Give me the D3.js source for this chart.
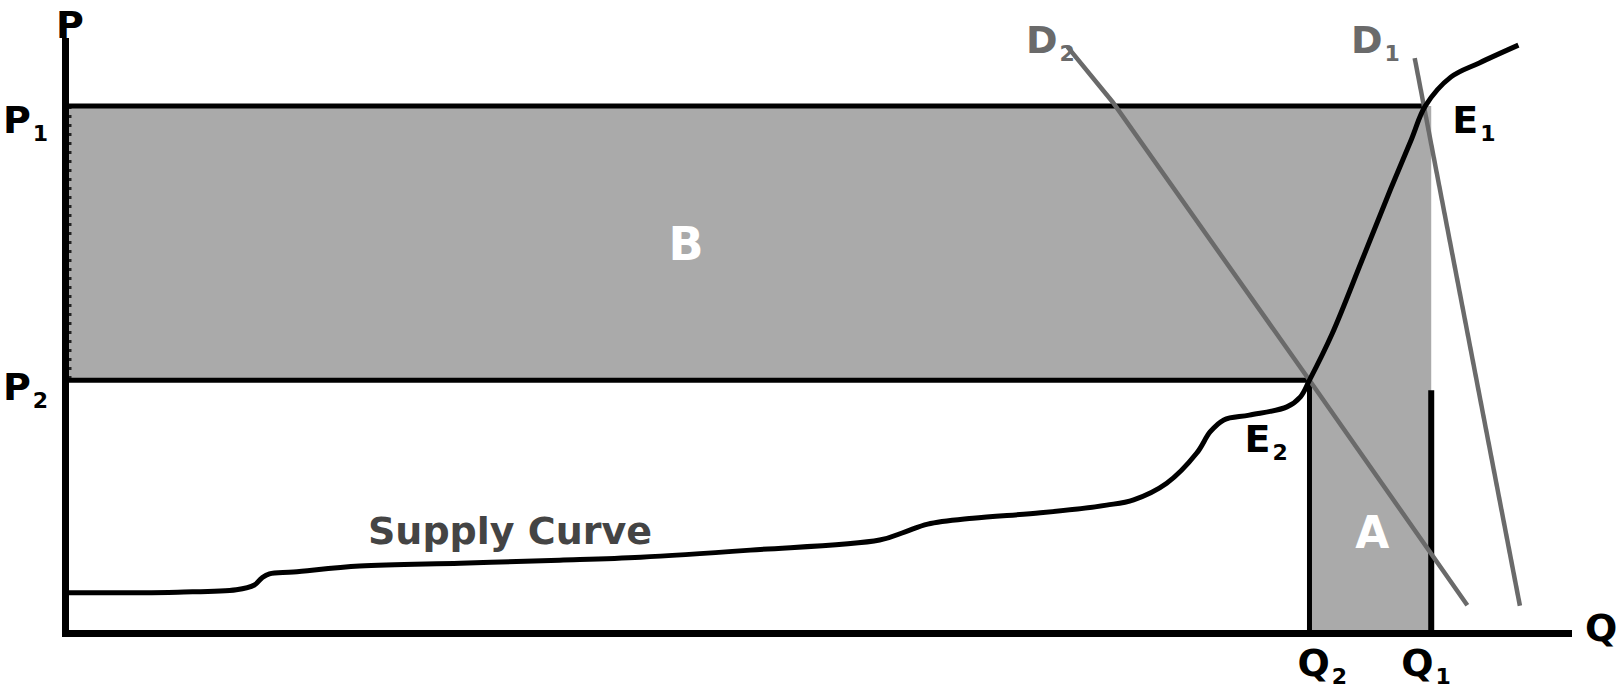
<!DOCTYPE html>
<html>
<head>
<meta charset="utf-8">
<script src="https://cdn.jsdelivr.net/npm/d3@7"></script>
<style>
    body { margin: 0; background: #fff; }
    text { font-family: "DejaVu Sans", sans-serif; font-weight: bold; }
</style>
</head>
<body>
<div id="chart-container"></div>
<script>
// data (quantity on x, price on y, both 0..100)
const priceLevels = [{ name: "P", sub: "1", p: 89.0 }, { name: "P", sub: "2", p: 42.7 }];
const quantityLevels = [{ name: "Q", sub: "2", q: 82.8 }, { name: "Q", sub: "1", q: 90.9 }];
const equilibria = [{ name: "E", sub: "1", q: 90.5, p: 89.0 }, { name: "E", sub: "2", q: 82.8, p: 42.7 }];

const supplyQ = [0, 3.7, 7.5, 11.4, 12.6, 13.1, 13.6, 15.2, 19.6, 26.3, 32.9, 38.3, 45.6, 54.2, 55.9, 57.4,
    60.4, 64.9, 69.3, 71.1, 73.3, 75.3, 76.2, 77.1, 78.8, 81.3, 82.2, 82.8, 84.3, 86.3, 88.2, 89.6, 90.5,
    92.2, 94.1, 96.7];
const supplyP = [6.8, 6.8, 6.9, 7.3, 8.1, 9.3, 10.0, 10.3, 11.3, 11.8, 12.3, 12.8, 14.0, 15.7, 17.1, 18.4,
    19.4, 20.3, 21.6, 22.5, 25.3, 30.4, 34.0, 36.0, 36.8, 38.2, 39.9, 42.7, 50.5, 63.0, 75.0, 83.5, 89.0,
    93.9, 96.3, 99.3];

const demandD2Q = [66.7, 69.7, 82.8, 93.3];
const demandD2P = [99.0, 89.7, 42.7, 4.7];
const demandD1Q = [89.8, 96.8];
const demandD1P = [97.1, 4.6];

const q1LineTop = 41.0; // black edge of area A starts a little below P2

// margin convention
const svgWidth = 1623,
    svgHeight = 692,
    margin = { top: 41, right: 55, bottom: 59, left: 65 },
    width = svgWidth - margin.left - margin.right,
    height = svgHeight - margin.top - margin.bottom;

let svg = d3.select("#chart-container").append("svg")
    .attr("width", svgWidth)
    .attr("height", svgHeight);
let chartGroup = svg.append("g")
    .attr("transform", `translate(${margin.left}, ${margin.top})`);

let xScale = d3.scaleLinear().domain([0, 100]).range([0, width]);
let yScale = d3.scaleLinear().domain([0, 100]).range([height, 0]);

let P1 = priceLevels[0].p, P2 = priceLevels[1].p;
let Q2 = quantityLevels[0].q, Q1 = quantityLevels[1].q;

// shaded areas B and A (one polygon)
let shaded = [[0, P1], [Q1, P1], [Q1, 0], [Q2, 0], [Q2, P2], [0, P2]];
chartGroup.append("path")
    .attr("d", d3.line().x((d) => xScale(d[0])).y((d) => yScale(d[1]))(shaded) + "Z")
    .attr("fill", "#aaaaaa");

// dotted ticks on the price axis between P1 and P2
chartGroup.append("line")
    .attr("x1", 5).attr("x2", 5)
    .attr("y1", yScale(P1)).attr("y2", yScale(P2))
    .attr("stroke", "#222")
    .attr("stroke-width", 3)
    .attr("stroke-dasharray", "3,6");

// price lines
chartGroup.selectAll("line.price")
    .data(equilibria)
    .join("line")
    .attr("class", "price")
    .attr("x1", 0)
    .attr("x2", (d) => xScale(d.q))
    .attr("y1", (d) => yScale(d.p))
    .attr("y2", (d) => yScale(d.p))
    .attr("stroke", "#000")
    .attr("stroke-width", 5);

// quantity lines
chartGroup.append("line")
    .attr("x1", xScale(Q2)).attr("x2", xScale(Q2))
    .attr("y1", yScale(P2)).attr("y2", yScale(0))
    .attr("stroke", "#000").attr("stroke-width", 5);
chartGroup.append("line")
    .attr("x1", xScale(Q1)).attr("x2", xScale(Q1))
    .attr("y1", yScale(q1LineTop)).attr("y2", yScale(0))
    .attr("stroke", "#000").attr("stroke-width", 6);

// demand curves
let lineFxn = d3.line().x((d) => xScale(d[0])).y((d) => yScale(d[1]));
chartGroup.append("path")
    .attr("d", lineFxn(d3.zip(demandD2Q, demandD2P)))
    .attr("fill", "none")
    .attr("stroke", "#6a6a6a")
    .attr("stroke-width", 4.5);
chartGroup.append("path")
    .attr("d", lineFxn(d3.zip(demandD1Q, demandD1P)))
    .attr("fill", "none")
    .attr("stroke", "#6a6a6a")
    .attr("stroke-width", 4.5);

// supply curve
chartGroup.append("path")
    .attr("d", d3.line()
        .x((d) => xScale(d[0]))
        .y((d) => yScale(d[1]))
        .curve(d3.curveCatmullRom.alpha(0.5))(d3.zip(supplyQ, supplyP)))
    .attr("fill", "none")
    .attr("stroke", "#000")
    .attr("stroke-width", 5)
    .attr("stroke-linejoin", "round");

// axes (no ticks, just the domain line)
let xAxis = svg.append("g")
    .attr("transform", `translate(${margin.left}, ${margin.top + height})`)
    .call(d3.axisBottom(xScale).tickValues([]).tickSizeOuter(0));
let yAxis = svg.append("g")
    .attr("transform", `translate(${margin.left}, ${margin.top})`)
    .call(d3.axisLeft(yScale).tickValues([]).tickSizeOuter(0));
svg.selectAll(".domain")
    .attr("stroke", "#000")
    .attr("stroke-width", 7)
    .attr("stroke-linecap", "square");

// labels
function subLabel(g, x, y, name, sub, color, size) {
    let t = g.append("text")
        .attr("x", x)
        .attr("y", y)
        .attr("fill", color)
        .style("font-size", size + "px")
        .text(name);
    t.append("tspan")
        .attr("dx", 2)
        .attr("dy", 8)
        .style("font-size", "22px")
        .text(sub);
    return t;
}

svg.append("text")
    .attr("x", 56).attr("y", 38)
    .style("font-size", "38px")
    .text("P");
svg.append("text")
    .attr("x", 1585).attr("y", 641)
    .style("font-size", "38px")
    .text("Q");

priceLevels.forEach((d) => {
    subLabel(svg, 3, margin.top + yScale(d.p) + (d.sub === "1" ? 27 : 20), d.name, d.sub, "#000", 38);
});
quantityLevels.forEach((d, i) => {
    subLabel(svg, margin.left + xScale(d.q) - (i === 0 ? 12 : 30), 676, d.name, d.sub, "#000", 38);
});
subLabel(svg, margin.left + xScale(equilibria[0].q) + 27, margin.top + yScale(equilibria[0].p) + 27, "E", "1", "#000", 38);
subLabel(svg, margin.left + xScale(equilibria[1].q) - 65, margin.top + yScale(equilibria[1].p) + 72, "E", "2", "#000", 38);
subLabel(svg, 1026, 53, "D", "2", "#6a6a6a", 38);
subLabel(svg, 1351, 53, "D", "1", "#6a6a6a", 38);

svg.append("text")
    .attr("x", 686).attr("y", 260)
    .attr("text-anchor", "middle")
    .attr("fill", "#fff")
    .style("font-size", "46px")
    .text("B");
svg.append("text")
    .attr("x", margin.left + xScale((Q1 + Q2) / 2) + 2).attr("y", 548)
    .attr("text-anchor", "middle")
    .attr("fill", "#fff")
    .style("font-size", "44px")
    .text("A");
svg.append("text")
    .attr("x", 368).attr("y", 544)
    .attr("fill", "#444")
    .style("font-size", "38px")
    .text("Supply Curve");
</script>
</body>
</html>
